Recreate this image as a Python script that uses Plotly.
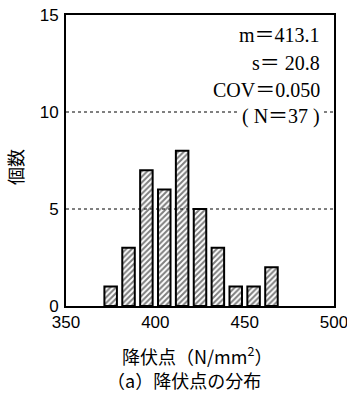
import plotly.graph_objects as go

bin_centers = [375, 385, 395, 405, 415, 425, 435, 445, 455, 465]
counts = [1, 3, 7, 6, 8, 5, 3, 1, 1, 2]
x_ticks = [350, 400, 450, 500]
y_ticks = [0, 5, 10, 15]
grid_levels = [5, 10]
stats_lines = ["m＝413.1", "s＝\u00a020.8", "COV＝0.050", "(\u00a0N＝37\u00a0)"]

JP = "Noto Sans CJK JP"
SERIF = "Liberation Serif, Noto Sans CJK JP"

fig = go.Figure()
fig.add_trace(go.Bar(
    x=bin_centers, y=counts, width=7,
    marker=dict(color="white", line=dict(color="black", width=2),
                pattern=dict(shape="/", fgcolor="black", bgcolor="white", size=4, solidity=0.5)),
    showlegend=False,
))

shapes = []
for g in grid_levels:
    shapes.append(dict(type="line", xref="paper", yref="y", x0=0, x1=1, y0=g, y1=g,
                       line=dict(color="black", width=1, dash="dot"), layer="above"))

annotations = []
ys = [0.931, 0.835, 0.742, 0.652]
for t, yy in zip(stats_lines, ys):
    annotations.append(dict(text=t, xref="paper", yref="paper", x=0.96, y=yy,
                            xanchor="right", yanchor="middle", showarrow=False,
                            bgcolor="white", borderpad=2,
                            font=dict(family=SERIF, size=20, color="black")))
annotations.append(dict(text="個数", xref="paper", yref="paper", x=-0.19, y=0.478,
                        textangle=-90, showarrow=False, xanchor="center", yanchor="middle",
                        font=dict(family=JP, size=18, color="black")))
annotations.append(dict(text="降伏点（N/mm<sup>2</sup>）", xref="paper", yref="paper", x=0.489, y=-0.168,
                        showarrow=False, xanchor="center", yanchor="middle",
                        font=dict(family=JP, size=18, color="black")))
annotations.append(dict(text="（a）降伏点の分布", xref="paper", yref="paper", x=0.44, y=-0.254,
                        showarrow=False, xanchor="center", yanchor="middle",
                        font=dict(family=JP, size=18, color="black")))

fig.update_layout(
    width=347, height=394,
    margin=dict(l=66, r=13, t=15, b=88),
    plot_bgcolor="white", paper_bgcolor="white",
    shapes=shapes, annotations=annotations,
    xaxis=dict(range=[350, 500], tickvals=x_ticks, showgrid=False, zeroline=False,
               showline=True, linecolor="black", linewidth=2, mirror=True,
               automargin=False, ticklabeloverflow="allow",
               ticks="", tickfont=dict(family="Liberation Sans", size=17, color="black")),
    yaxis=dict(range=[0, 15], tickvals=y_ticks, showgrid=False, zeroline=False,
               showline=True, linecolor="black", linewidth=2, mirror=True,
               automargin=False, ticklabeloverflow="allow", ticklabelstandoff=2,
               ticks="", tickfont=dict(family="Liberation Sans", size=17, color="black")),
)

fig.write_html("out.html",
               config={"displayModeBar": False},
               post_script="document.body.style.margin='0';document.body.style.padding='0';document.body.style.overflow='hidden';")
